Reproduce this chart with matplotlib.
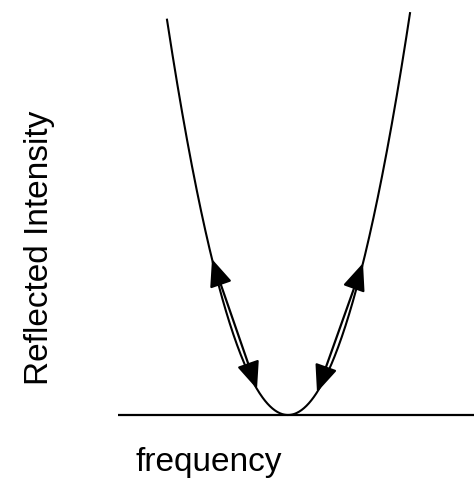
import numpy as np
import matplotlib
matplotlib.use("Agg")
import matplotlib.pyplot as plt
from matplotlib.patches import FancyArrowPatch

plt.rcParams['font.family'] = ['Liberation Sans', 'DejaVu Sans']

# reflection curve: intensity = curvature * (frequency - f0)^2
f0 = 0.0
curvature = 0.027
freq_range = (-121, 122)

# double-headed arrows along the two flanks (frequency start, end)
arrow_freqs = [(-76, -31), (29, 75)]

# baseline (frequency axis)
axis_freqs = [-170, 186]

x_label = "frequency"
y_label = "Reflected Intensity"


def intensity(f):
    return curvature * (np.asarray(f) - f0) ** 2


fig = plt.figure(figsize=(4.74, 4.78), dpi=100)
ax = fig.add_axes([0, 0, 1, 1])
ax.set_xlim(-288, 186)
ax.set_ylim(-63, 415)
ax.axis('off')

# baseline
ax.plot(axis_freqs, [0, 0], color='black', lw=1.6, solid_capstyle='butt')

# curve
f = np.linspace(freq_range[0], freq_range[1], 400)
ax.plot(f, intensity(f), color='black', lw=1.5)

# arrows
for fa, fb in arrow_freqs:
    arr = FancyArrowPatch((fa, float(intensity(fa))), (fb, float(intensity(fb))),
                          arrowstyle='<|-|>,head_length=0.6,head_width=0.25',
                          mutation_scale=28, lw=1.6,
                          color='black', shrinkA=0, shrinkB=0)
    ax.add_patch(arr)

ax.text(-79, -47, x_label, fontsize=24, ha='center', va='center')
ax.text(-248, 167, y_label, fontsize=24, ha='center', va='center', rotation=90)

fig.savefig("out.png", dpi=100)
